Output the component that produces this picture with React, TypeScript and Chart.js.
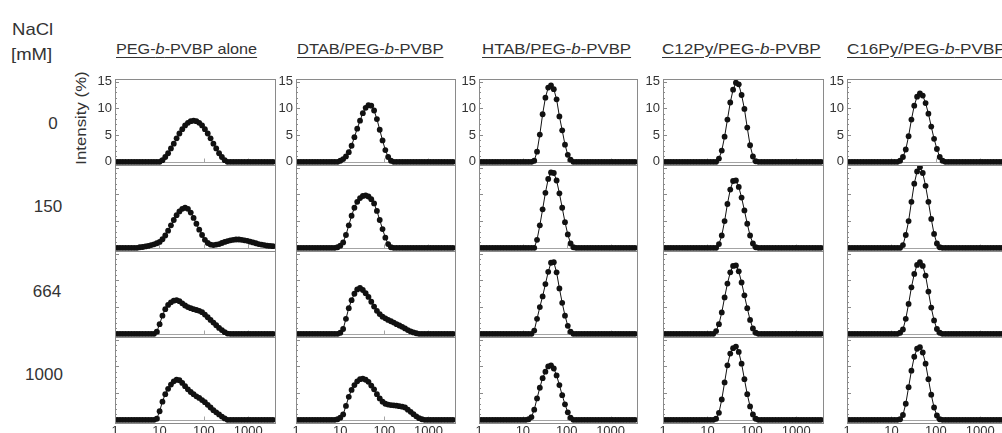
import { useEffect, useRef } from 'react';
import { Chart, registerables } from 'chart.js';

Chart.register(...registerables);

// Hydrodynamic diameter bins (nm), Zetasizer log bins within the 1–4000 nm window
const SIZES = [1.117, 1.294, 1.499, 1.736, 2.01, 2.328, 2.696, 3.122, 3.615, 4.187, 4.849, 5.615, 6.503, 7.531, 8.721, 10.1, 11.7, 13.54, 15.69, 18.17, 21.04, 24.36, 28.21, 32.67, 37.84, 43.82, 50.75, 58.77, 68.06, 78.82, 91.28, 105.7, 122.4, 141.8, 164.2, 190.1, 220.2, 255, 295.3, 342, 396.1, 458.7, 531.2, 615.1, 712.4, 825, 955.4, 1106, 1281, 1484, 1718, 1990, 2305, 2669, 3091, 3580];

const X_TICKS = [1, 10, 100, 1000];
const Y_TICKS = [0, 5, 10, 15];
const Y_MINOR = [0, 1, 2, 3, 4, 5, 6, 7, 8, 9, 10, 11, 12, 13, 14, 15];
const X_MIN = 1;
const X_MAX = 4000;
const Y_MIN = -0.6;
const Y_MAX = 15.5;

const NACL = ['0', '150', '664', '1000'];
const TITLE_PRE = ['PEG-', 'DTAB/PEG-', 'HTAB/PEG-', 'C12Py/PEG-', 'C16Py/PEG-'];
const TITLE_POST = ['-PVBP alone', '-PVBP', '-PVBP', '-PVBP', '-PVBP'];

// Intensity (%) per bin — PEG-b-PVBP alone
const ALONE_0 = [0,0,0,0,0,0,0,0,0,0, 0,0,0,0,0,0,
  0.3,0.9,1.6,2.5,3.4,4.4,5.3,6.1,6.8,7.3,7.6,7.7,7.6,7.3,6.8,6.1,5.3,4.4,3.4,2.5,1.6,0.9,0.3,
  0,0,0,0,0,0,0,0,0,0, 0,0,0,0,0,0,0];
const ALONE_150 = [0,0,0,0,0,0,0,0,
  0.1,0.15,0.25,0.35,0.5,0.65,0.85,1.1,1.6,2.3,3.2,4.2,5.2,6.1,6.8,7.3,7.5,7.3,6.6,5.6,4.5,3.4,2.4,1.5,0.9,0.6,0.5,0.6,0.7,0.9,1.1,1.25,1.4,1.5,1.55,1.55,1.5,1.4,1.3,1.15,1.0,0.85,0.7,0.6,0.5,0.4,0.35,0.3];
const ALONE_664 = [0,0,0,0,0,0,0,0,0,0, 0,0,0,0,
  0.4,1.8,3.4,4.6,5.4,5.9,6.2,6.3,6.1,5.7,5.3,5.0,4.8,4.6,4.45,4.3,4.05,3.6,3.1,2.6,2.1,1.6,1.1,0.7,0.3,0.05,
  0,0,0,0,0,0,0,0,0,0, 0,0,0,0,0,0];
const ALONE_1000 = [0,0,0,0,0,0,0,0,0,0, 0,0,0,0,
  0.2,1.6,3.4,4.8,5.8,6.6,7.2,7.5,7.4,6.9,6.3,5.7,5.2,4.8,4.4,4.1,3.7,3.3,2.8,2.3,1.8,1.4,1.0,0.6,0.25,
  0,0,0,0,0,0,0,0,0,0, 0,0,0,0,0,0,0];

// DTAB/PEG-b-PVBP
const DTAB_0 = [0,0,0,0,0,0,0,0,0,0, 0,0,0,0,0,
  0.2,0.5,1.0,1.8,3.0,4.6,6.2,7.7,9.1,10.1,10.6,10.5,9.6,8.0,6.0,4.0,2.2,0.9,0.2,
  0,0,0,0,0,0,0,0,0,0, 0,0,0,0,0,0,0,0,0,0, 0,0];
const DTAB_150 = [0,0,0,0,0,0,0,0,0,0, 0,0,0,0,
  0.1,0.4,1.0,2.4,4.2,6.0,7.5,8.6,9.3,9.7,9.8,9.6,9.1,8.3,6.9,5.2,3.5,1.9,0.7,0.1,
  0,0,0,0,0,0,0,0,0,0, 0,0,0,0,0,0,0,0,0,0, 0,0];
const DTAB_664 = [0,0,0,0,0,0,0,0,0,0, 0,0,0,0,0,
  0.2,0.9,2.8,4.8,6.3,7.5,8.3,8.6,8.2,7.6,6.9,6.0,5.1,4.3,3.7,3.2,2.9,2.6,2.35,2.1,1.8,1.55,1.3,1.0,0.7,0.45,0.25,0.1,
  0,0,0,0,0,0,0,0,0,0, 0,0,0];
const DTAB_1000 = [0,0,0,0,0,0,0,0,0,0, 0,0,0,0,
  0.1,0.4,1.0,2.6,4.3,5.6,6.5,7.2,7.6,7.7,7.5,7.1,6.4,5.7,4.8,4.0,3.4,3.0,2.85,2.75,2.7,2.65,2.55,2.45,2.3,1.9,1.5,1.05,0.65,0.3,0.1,
  0,0,0,0,0,0,0,0,0,0, 0];

// HTAB/PEG-b-PVBP
const HTAB_0 = [0,0,0,0,0,0,0,0,0,0, 0,0,0,0,0,0,0,0,0,
  0.2,1.9,5.1,8.9,12.0,13.9,14.3,13.6,11.7,8.5,5.9,3.2,1.3,0.4,
  0,0,0,0,0,0,0,0,0,0, 0,0,0,0,0,0,0,0,0,0, 0,0,0];
const HTAB_150 = [0,0,0,0,0,0,0,0,0,0, 0,0,0,0,0,0,0,0,0,0,
  1.5,4.2,7.2,10.3,12.9,14.1,14.0,12.6,10.2,7.5,4.8,2.5,0.8,0.1,
  0,0,0,0,0,0,0,0,0,0, 0,0,0,0,0,0,0,0,0,0, 0,0];
const HTAB_664 = [0,0,0,0,0,0,0,0,0,0, 0,0,0,0,0,0,0,0,0,
  0.6,2.8,5.0,7.0,9.3,11.6,13.3,13.4,11.5,8.5,5.8,3.4,1.5,0.4,
  0,0,0,0,0,0,0,0,0,0, 0,0,0,0,0,0,0,0,0,0, 0,0,0];
const HTAB_1000 = [0,0,0,0,0,0,0,0,0,0, 0,0,0,0,0,0,0,
  0.1,0.5,1.9,4.0,6.0,7.8,9.0,10.0,10.2,9.6,8.3,6.5,4.6,2.9,1.4,0.4,
  0,0,0,0,0,0,0,0,0,0, 0,0,0,0,0,0,0,0,0,0, 0,0,0];

// C12Py/PEG-b-PVBP
const C12_0 = [0,0,0,0,0,0,0,0,0,0, 0,0,0,0,0,0,0,0,0,
  0.6,2.1,4.7,7.9,11.1,13.5,14.8,14.5,12.5,9.9,6.4,3.1,1.0,0.1,
  0,0,0,0,0,0,0,0,0,0, 0,0,0,0,0,0,0,0,0,0, 0,0,0];
const C12_150 = [0,0,0,0,0,0,0,0,0,0, 0,0,0,0,0,0,0,0,0,
  0.7,2.3,5.0,8.2,10.9,12.5,12.6,11.4,9.4,7.0,4.5,2.3,0.8,0.1,
  0,0,0,0,0,0,0,0,0,0, 0,0,0,0,0,0,0,0,0,0, 0,0,0];
const C12_664 = [0,0,0,0,0,0,0,0,0,0, 0,0,0,0,0,0,0,0,
  0.5,1.8,4.0,6.8,9.4,11.5,12.7,12.8,11.7,9.6,7.2,4.8,2.6,1.0,0.2,
  0,0,0,0,0,0,0,0,0,0, 0,0,0,0,0,0,0,0,0,0, 0,0,0];
const C12_1000 = [0,0,0,0,0,0,0,0,0,0, 0,0,0,0,0,0,0,0,
  0.2,1.3,3.8,7.0,10.2,12.4,13.4,13.7,12.7,10.5,7.6,4.8,2.5,1.0,0.2,
  0,0,0,0,0,0,0,0,0,0, 0,0,0,0,0,0,0,0,0,0, 0,0,0];

// C16Py/PEG-b-PVBP
const C16_0 = [0,0,0,0,0,0,0,0,0,0, 0,0,0,0,0,0,0,0,
  0.2,0.9,2.3,4.8,7.9,10.5,12.2,12.8,12.4,11.0,9.0,6.6,4.3,2.4,0.9,0.2,
  0,0,0,0,0,0,0,0,0,0, 0,0,0,0,0,0,0,0,0,0, 0,0];
const C16_150 = [0,0,0,0,0,0,0,0,0,0, 0,0,0,0,0,0,0,0,0,
  0.5,2.4,5.0,8.6,12.0,14.3,15.1,14.0,11.6,8.6,5.4,2.6,0.8,0.1,
  0,0,0,0,0,0,0,0,0,0, 0,0,0,0,0,0,0,0,0,0, 0,0,0];
const C16_664 = [0,0,0,0,0,0,0,0,0,0, 0,0,0,0,0,0,0,0,
  0.2,0.8,2.8,5.6,8.7,11.2,12.9,13.4,12.7,10.9,7.9,4.9,2.5,0.9,0.2,
  0,0,0,0,0,0,0,0,0,0, 0,0,0,0,0,0,0,0,0,0, 0,0,0];
const C16_1000 = [0,0,0,0,0,0,0,0,0,0, 0,0,0,0,0,0,0,0,
  0.1,0.9,3.0,6.1,9.2,11.8,13.3,13.6,12.6,10.5,7.6,4.7,2.3,0.8,0.1,
  0,0,0,0,0,0,0,0,0,0, 0,0,0,0,0,0,0,0,0,0, 0,0,0];

const SERIES = [
  [ALONE_0, ALONE_150, ALONE_664, ALONE_1000],
  [DTAB_0, DTAB_150, DTAB_664, DTAB_1000],
  [HTAB_0, HTAB_150, HTAB_664, HTAB_1000],
  [C12_0, C12_150, C12_664, C12_1000],
  [C16_0, C16_150, C16_664, C16_1000],
];

// Layout
const FONT = '"Liberation Sans", Arial, Helvetica, sans-serif';
const TEXT = '#333';
const PANEL_LEFT = [115, 296, 479, 663, 847];
const PANEL_W = [160, 159, 158, 160, 160];
const PANEL_TOP = [79, 165, 251, 337];
const PANEL_H = 86;
const AXIS_W = 36;
const PAD_R = 4;
const PAD_V = 12;
const X_AXIS_H = 16;
const TITLE_LEFT = [116, 297, 482, 662, 847];
const TITLE_SCALE = [1.08, 1.1, 1.12, 1.14, 1.14];
const ROW_LABEL_X = [53, 48, 47, 44];
const ROW_LABEL_Y = [123, 206, 291, 374];

const framePlugin = {
  id: 'panelFrame',
  beforeDatasetsDraw(chart: any) {
    const { ctx, chartArea: a } = chart;
    const xs = chart.scales.x;
    const ys = chart.scales.y;
    ctx.save();
    ctx.lineWidth = 1;
    const y0 = Math.round(ys.getPixelForValue(0)) + 0.5;
    ctx.strokeStyle = '#a4a4a4';
    ctx.beginPath();
    ctx.moveTo(a.left, y0);
    ctx.lineTo(a.right, y0);
    X_TICKS.forEach((v) => {
      const px = Math.round(xs.getPixelForValue(v)) + 0.5;
      ctx.moveTo(px, y0);
      ctx.lineTo(px, y0 - 4);
    });
    ctx.stroke();
    ctx.strokeStyle = '#8a8a8a';
    ctx.beginPath();
    Y_MINOR.forEach((v) => {
      const py = Math.round(ys.getPixelForValue(v)) + 0.5;
      const len = Y_TICKS.includes(v) ? 4 : 2;
      ctx.moveTo(a.left, py);
      ctx.lineTo(a.left + len, py);
    });
    ctx.stroke();
    ctx.restore();
  },
  afterDatasetsDraw(chart: any) {
    const { ctx, chartArea: a } = chart;
    ctx.save();
    ctx.strokeStyle = '#8a8a8a';
    ctx.lineWidth = 1;
    const l = Math.round(a.left) + 0.5;
    const t = Math.round(a.top) + 0.5;
    ctx.strokeRect(l, t, Math.round(a.right) - Math.round(a.left), Math.round(a.bottom) - Math.round(a.top));
    ctx.restore();
  },
};

function Panel({ values, row, col }: { values: number[]; row: number; col: number }) {
  const ref = useRef<HTMLCanvasElement>(null);
  const isBottom = row === 3;
  const padB = isBottom ? 0 : PAD_V;
  const xh = isBottom ? X_AXIS_H : 0;
  const w = AXIS_W + PANEL_W[col] + PAD_R;
  const h = PAD_V + PANEL_H + xh + padB;
  const left = PANEL_LEFT[col] - AXIS_W;
  const top = PANEL_TOP[row] - PAD_V;

  useEffect(() => {
    const tickFont = { family: FONT, size: 13 };
    const chart = new Chart(ref.current as HTMLCanvasElement, {
      type: 'scatter',
      data: {
        datasets: [
          {
            data: SIZES.map((s, k) => ({ x: s, y: values[k] })),
            showLine: true,
            borderColor: '#111',
            borderWidth: 1,
            pointRadius: 2.9,
            pointHoverRadius: 2.9,
            pointBackgroundColor: '#111',
            pointBorderWidth: 0,
            tension: 0,
          } as any,
        ],
      },
      options: {
        animation: false,
        responsive: false,
        events: [],
        layout: { padding: { left: 0, right: PAD_R, top: PAD_V, bottom: padB } },
        plugins: { legend: { display: false }, tooltip: { enabled: false } },
        scales: {
          x: {
            type: 'logarithmic',
            min: X_MIN,
            max: X_MAX,
            grid: { display: false, drawTicks: false },
            border: { display: false },
            ticks: {
              display: isBottom,
              color: TEXT,
              font: tickFont,
              padding: 1,
              maxRotation: 0,
              autoSkip: false,
              callback: (v: any) => String(v),
            },
            afterBuildTicks: (s: any) => {
              s.ticks = X_TICKS.map((v) => ({ value: v }));
            },
            afterFit: (s: any) => {
              s.height = xh;
            },
          },
          y: {
            type: 'linear',
            min: Y_MIN,
            max: Y_MAX,
            grid: { display: false, drawTicks: false },
            border: { display: false },
            ticks: {
              display: row === 0,
              color: TEXT,
              font: tickFont,
              padding: 3,
              callback: (v: any) => String(v),
            },
            afterBuildTicks: (s: any) => {
              s.ticks = Y_TICKS.map((v) => ({ value: v }));
            },
            afterFit: (s: any) => {
              s.width = AXIS_W;
            },
          },
        },
      } as any,
      plugins: [framePlugin],
    });
    return () => chart.destroy();
  }, []);

  return (
    <canvas
      ref={ref}
      width={w}
      height={h}
      style={{ position: 'absolute', left, top, width: w, height: h }}
    />
  );
}

export default function App() {
  const label17 = { position: 'absolute' as const, font: `17px ${FONT}`, lineHeight: '17px', color: TEXT, whiteSpace: 'nowrap' as const };
  return (
    <div
      style={{
        position: 'fixed',
        left: 0,
        top: 0,
        width: 1002,
        height: 433,
        overflow: 'hidden',
        background: '#fff',
        fontFamily: FONT,
        color: TEXT,
      }}
    >
      <div style={{ ...label17, left: 12, top: 21, transform: 'scaleX(1.09)', transformOrigin: 'left top' }}>NaCl</div>
      <div style={{ ...label17, left: 11, top: 45.5, transform: 'scaleX(1.09)', transformOrigin: 'left top' }}>[mM]</div>
      {NACL.map((t, r) => (
        <div
          key={t}
          style={{ ...label17, left: ROW_LABEL_X[r] - 40, top: ROW_LABEL_Y[r] - 8.3, width: 80, textAlign: 'center' }}
        >
          {t}
        </div>
      ))}
      {TITLE_PRE.map((pre, c) => (
        <div
          key={pre}
          style={{
            position: 'absolute',
            left: TITLE_LEFT[c],
            top: 40.5,
            font: `15px ${FONT}`,
            lineHeight: '15px',
            color: TEXT,
            whiteSpace: 'nowrap',
            textDecoration: 'underline',
            textUnderlineOffset: '3px',
            transform: `scaleX(${TITLE_SCALE[c]})`,
            transformOrigin: 'left top',
          }}
        >
          {pre}
          <i>b</i>
          {TITLE_POST[c]}
        </div>
      ))}
      <div
        style={{
          position: 'absolute',
          left: 20,
          top: 109.5,
          width: 120,
          height: 16,
          lineHeight: '16px',
          textAlign: 'center',
          font: `15px ${FONT}`,
          color: TEXT,
          whiteSpace: 'nowrap',
          transform: 'rotate(-90deg) scaleX(1.12)',
        }}
      >
        Intensity (%)
      </div>
      {SERIES.map((colSeries, c) =>
        colSeries.map((vals, r) => <Panel key={`${c}-${r}`} values={vals} row={r} col={c} />)
      )}
    </div>
  );
}
